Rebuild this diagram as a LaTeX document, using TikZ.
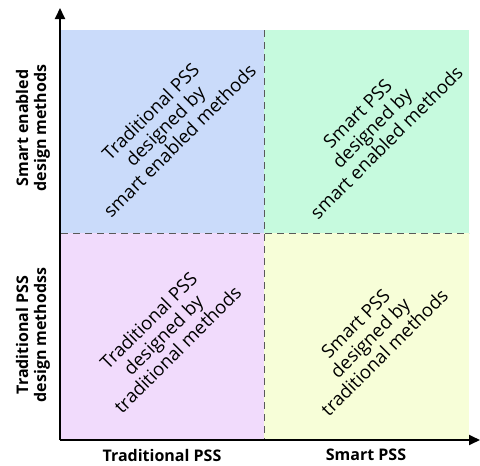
\documentclass[tikz,border=0pt]{standalone}
\usepackage{fontspec}
\setmainfont{Open Sans}
\usetikzlibrary{arrows.meta}
\definecolor{qblue}{RGB}{202,219,250}
\definecolor{qgreen}{RGB}{198,250,222}
\definecolor{qpink}{RGB}{241,219,252}
\definecolor{qyellow}{RGB}{247,254,216}
\begin{document}
\begin{tikzpicture}[x=1pt,y=-1pt,
  quad/.style={align=center,rotate=45,font=\fontsize{18.5}{20.5}\selectfont,text=black},
  axlab/.style={align=center,font=\bfseries\fontsize{16}{18}\selectfont},
  divider/.style={dash pattern=on 7pt off 5pt,gray!70!black,line width=0.9pt},
  axis/.style={line width=1.8pt,-{Triangle[length=11pt,width=10pt]}}]
\useasboundingbox (0,0) rectangle (480,466);
\fill[qblue] (61,30) rectangle (264,233);
\fill[qgreen] (264,30) rectangle (469,233);
\fill[qpink] (61,233) rectangle (264,439);
\fill[qyellow] (264,233) rectangle (469,439);
\coordinate (vtop) at (264,30);
\coordinate (vbot) at (264,439);
\coordinate (hl) at (61,233);
\coordinate (hr) at (469,233);
\draw[divider] (vtop) -- (vbot);
\draw[divider] (hl) -- (hr);
\coordinate (o) at (60,440);
\coordinate (ytip) at (60,8);
\coordinate (xtip) at (480,440);
\draw[axis] (o) -- (ytip);
\draw[axis] (o) -- (xtip);
\node[quad] (tl) at (165,126) {Traditional PSS\\designed by\\smart enabled methods};
\node[quad] (tr) at (372,128) {Smart PSS\\designed by\\smart enabled methods};
\node[quad] (bl) at (163,335) {Traditional PSS\\designed by\\traditional methods};
\node[quad] (br) at (370,338) {Smart PSS\\designed by\\traditional methods};
\node[axlab,rotate=90] (ly1) at (33,128) {Smart enabled\\design methods};
\node[axlab,rotate=90] (ly2) at (33,335) {Traditional PSS\\design methodss};
\node[axlab] (lx1) at (162,455) {Traditional PSS};
\node[axlab] (lx2) at (366,455) {Smart PSS};
\end{tikzpicture}
\end{document}
